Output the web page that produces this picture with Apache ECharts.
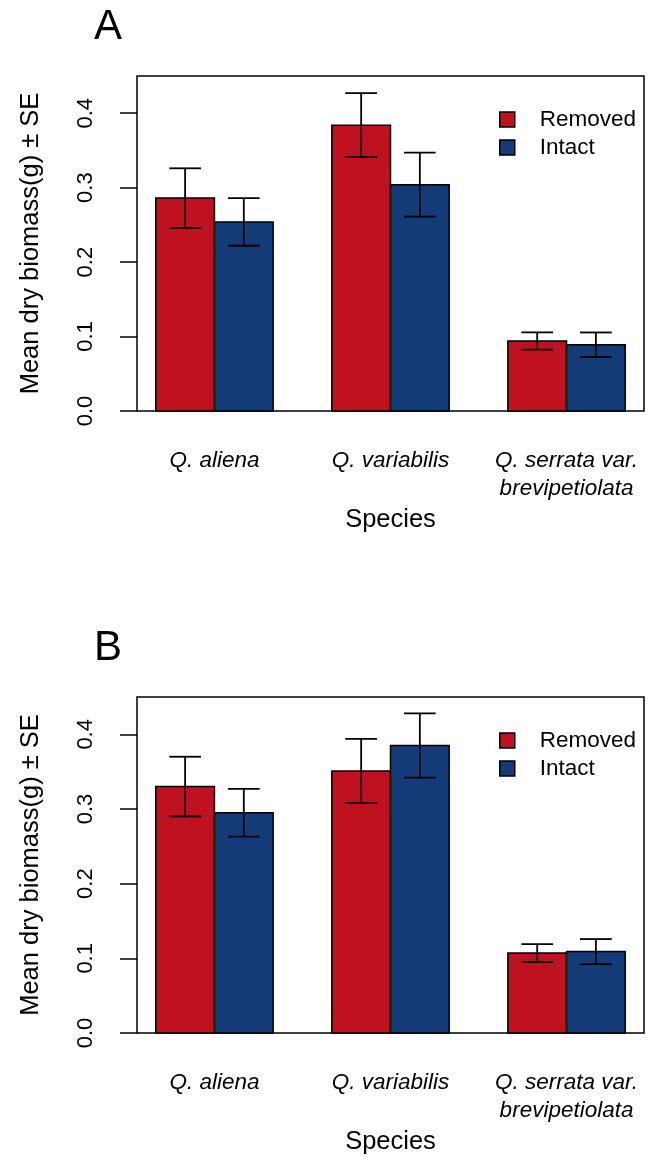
<!DOCTYPE html>
<html>
<head>
<meta charset="utf-8">
<script src="https://cdn.jsdelivr.net/npm/echarts@6/dist/echarts.min.js"></script>
<style>
html,body{margin:0;padding:0;background:#fff;}
#chart{width:652px;height:1157px;}
</style>
</head>
<body>
<div id="chart"></div>
<script>
// ---- data ----
const categories = ['Q. aliena', 'Q. variabilis', 'Q. serrata var.\nbrevipetiolata'];
const groupNames = ['Removed', 'Intact'];
const panelLabels = ['A', 'B'];
const yTickValues = [0, 0.1, 0.2, 0.3, 0.4];

const removedA = [0.286, 0.384, 0.094];
const removedSeA = [0.040, 0.043, 0.0116];
const intactA = [0.254, 0.304, 0.089];
const intactSeA = [0.032, 0.043, 0.0165];

const removedB = [0.330, 0.351, 0.107];
const removedSeB = [0.040, 0.043, 0.012];
const intactB = [0.295, 0.385, 0.109];
const intactSeB = [0.032, 0.043, 0.0168];

// ---- styling / layout ----
const FONT = 'Liberation Sans, Arial, Helvetica, sans-serif';
const colors = ['#BE1220', '#133B77'];
const panels = [
  { label: panelLabels[0], means: [removedA, intactA], ses: [removedSeA, intactSeA], top: 76, height: 335 },
  { label: panelLabels[1], means: [removedB, intactB], ses: [removedSeB, intactSeB], top: 697, height: 336 }
];

// R barplot layout: each group occupies 3 units (1 space + 2 bars), group centre at 2 + 3*i
function barX(i, g) { return 2 + 3 * i + (g === 0 ? -0.5 : 0.5); }
function groupCenter(i) { return 2 + 3 * i; }

const grids = [], xAxes = [], yAxes = [], series = [], titles = [], legends = [];

panels.forEach((p, pi) => {
  grids.push({ left: 137, width: 507, top: p.top, height: p.height, show: true, borderColor: '#000', borderWidth: 1.5, backgroundColor: 'transparent' });
  xAxes.push({
    type: 'value', gridIndex: pi, min: 0.68, max: 9.32,
    name: 'Species', nameLocation: 'middle', nameGap: 96,
    nameTextStyle: { fontFamily: FONT, fontSize: 25.5, color: '#000' },
    axisLine: { show: false }, axisTick: { show: false }, splitLine: { show: false },
    axisLabel: {
      customValues: categories.map((c, i) => groupCenter(i)),
      formatter: v => { const i = Math.round((v - 2) / 3); return categories[i] || ''; },
      fontFamily: FONT, fontSize: 22.5, fontStyle: 'italic', color: '#000', lineHeight: 28, margin: 36
    }
  });
  yAxes.push({
    type: 'value', gridIndex: pi, min: 0, max: 0.45,
    name: 'Mean dry biomass(g) \u00B1 SE', nameLocation: 'middle', nameGap: 93, nameRotate: 90,
    nameTextStyle: { fontFamily: FONT, fontSize: 25.5, color: '#000' },
    axisLine: { show: false }, splitLine: { show: false },
    axisTick: { show: true, customValues: yTickValues, length: 17, lineStyle: { color: '#000', width: 1.5 } },
    axisLabel: { customValues: yTickValues, formatter: v => v.toFixed(1), rotate: 90, margin: 40, fontFamily: FONT, fontSize: 22, color: '#000' }
  });
  titles.push({ text: p.label, left: 94, top: p.top - 70, padding: 0, textStyle: { fontFamily: FONT, fontSize: 42, fontWeight: 'normal', color: '#000' } });
  legends.push({
    data: groupNames, orient: 'vertical', left: 499, top: p.top + 32, padding: 0,
    icon: 'rect', itemWidth: 15, itemHeight: 15, itemGap: 5,
    itemStyle: { borderColor: '#000', borderWidth: 1.5 },
    textStyle: { fontFamily: FONT, fontSize: 22.5, color: '#000', padding: [0, 0, 0, 20] },
    selectedMode: false
  });

  groupNames.forEach((gName, g) => {
    const data = p.means[g].map((v, i) => [barX(i, g), v, p.ses[g][i]]);
    series.push({
      type: 'custom', name: gName, xAxisIndex: pi, yAxisIndex: pi,
      itemStyle: { color: colors[g] },
      encode: { x: 0, y: 1 },
      data: data,
      renderItem: function (params, api) {
        const x = api.value(0), y = api.value(1);
        const a = api.coord([x - 0.5, y]);
        const b = api.coord([x + 0.5, 0]);
        return { type: 'rect', shape: { x: a[0], y: a[1], width: b[0] - a[0], height: b[1] - a[1] },
          style: { fill: colors[g], stroke: '#000', lineWidth: 1.5 } };
      },
      z: 2
    });
  });
  groupNames.forEach((gName, g) => {
    const data = p.means[g].map((v, i) => [barX(i, g), v, p.ses[g][i]]);
    series.push({
      type: 'custom', name: gName + ' SE', xAxisIndex: pi, yAxisIndex: pi,
      encode: { x: 0, y: 1 },
      data: data,
      renderItem: function (params, api) {
        const x = api.value(0), y = api.value(1), se = api.value(2);
        const t = api.coord([x, y + se]);
        const bt = api.coord([x, y - se]);
        const tl = api.coord([x - 0.27, y + se]);
        const tr = api.coord([x + 0.27, y + se]);
        const bl = api.coord([x - 0.27, y - se]);
        const br = api.coord([x + 0.27, y - se]);
        const st = { stroke: '#000', lineWidth: 1.8 };
        return { type: 'group', children: [
          { type: 'line', shape: { x1: t[0], y1: t[1], x2: bt[0], y2: bt[1] }, style: st },
          { type: 'line', shape: { x1: tl[0], y1: tl[1], x2: tr[0], y2: tr[1] }, style: st },
          { type: 'line', shape: { x1: bl[0], y1: bl[1], x2: br[0], y2: br[1] }, style: st }
        ] };
      },
      z: 3
    });
  });
});

const chart = echarts.init(document.getElementById('chart'), null, { renderer: 'canvas' });
chart.setOption({
  animation: false,
  backgroundColor: '#fff',
  title: titles,
  legend: legends,
  grid: grids,
  xAxis: xAxes,
  yAxis: yAxes,
  series: series
});
</script>
</body>
</html>
